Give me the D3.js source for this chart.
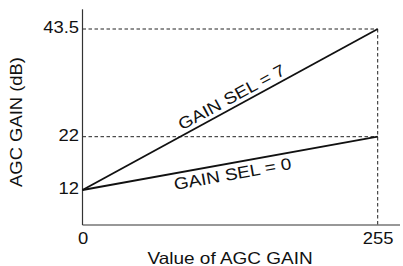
<!DOCTYPE html>
<meta charset="utf-8" />
<title>AGC Gain</title>
<style>
  body { margin: 0; background: #fff; }
  text { font-family: "Liberation Sans", Arial, sans-serif; fill: #111; }
  .grid { stroke: #222; stroke-width: 1; stroke-dasharray: 3.5, 2.5; fill: none; }
  .curve { stroke: #111; stroke-width: 1.8; fill: none; }
  .axisline { stroke: #333; stroke-width: 1.2; }
</style>
<body>
<script src="https://d3js.org/d3.v7.min.js"></script>
<script>
  // data (schematic, y axis is not to scale)
  var xTicks = [0, 255];
  var yTicks = [12, 22, 43.5];
  var agcValue = [0, 255];
  var gainSel7 = [12, 43.5];
  var gainSel0 = [12, 22];
  var seriesNames = ["GAIN SEL = 7", "GAIN SEL = 0"];

  var width = 403, height = 266;
  var left = 82.5, right = 377.7, axisTop = 9.3, axisBottom = 225;

  var svg = d3.select("body").append("svg")
    .attr("width", width)
    .attr("height", height);

  var x = d3.scaleLinear().domain(d3.extent(xTicks)).range([left, right]);
  // piecewise scale: the drawing spaces 12, 22 and 43.5 unevenly
  var y = d3.scaleLinear().domain(yTicks).range([190, 136.7, 29]);

  // dashed guides at the end values
  var topVals = yTicks.slice(1);
  svg.selectAll(".hgrid")
    .data(topVals)
    .enter().append("line")
    .attr("class", "grid")
    .attr("x1", left).attr("x2", x(255))
    .attr("y1", function(d) { return y(d); })
    .attr("y2", function(d) { return y(d); });

  svg.append("line")
    .attr("class", "grid")
    .attr("x1", x(255)).attr("x2", x(255))
    .attr("y1", y(d3.max(yTicks))).attr("y2", axisBottom);

  // axis lines
  svg.append("line").attr("class", "axisline")
    .attr("x1", left).attr("x2", left)
    .attr("y1", axisTop).attr("y2", axisBottom);
  svg.append("line").attr("class", "axisline")
    .attr("x1", left).attr("x2", 400)
    .attr("y1", axisBottom).attr("y2", axisBottom);

  // tick labels
  var yAxis = svg.append("g")
    .attr("transform", "translate(" + (left - 3.5) + ",0)")
    .call(d3.axisLeft(y).tickValues(yTicks).tickSize(0).tickPadding(0)
      .tickFormat(function(d) { return d; }));
  yAxis.select(".domain").remove();
  yAxis.selectAll("text")
    .attr("font-size", 16)
    .attr("dy", "0.22em")
    .attr("fill", "#111");

  var xAxis = svg.append("g")
    .attr("transform", "translate(0," + axisBottom + ")")
    .call(d3.axisBottom(x).tickValues(xTicks).tickSize(0).tickPadding(8)
      .tickFormat(function(d) { return d; }));
  xAxis.select(".domain").remove();
  xAxis.selectAll("text")
    .attr("font-size", 16)
    .attr("fill", "#111");

  // lines
  var line = d3.line()
    .x(function(d, i) { return x(agcValue[i]); })
    .y(function(d) { return y(d); });

  svg.selectAll(".curve")
    .data([gainSel7, gainSel0])
    .enter().append("path")
    .attr("class", "curve")
    .attr("d", line);

  // labels along the lines
  function lineLabel(vals, name, at, offset) {
    var x0 = x(agcValue[0]), y0 = y(vals[0]);
    var x1 = x(agcValue[1]), y1 = y(vals[1]);
    var ang = Math.atan2(y1 - y0, x1 - x0) * 180 / Math.PI;
    var px = x(at);
    var py = y0 + (y1 - y0) * (px - x0) / (x1 - x0);
    svg.append("text")
      .attr("transform", "translate(" + px + "," + py + ") rotate(" + ang + ")")
      .attr("text-anchor", "middle")
      .attr("dy", offset)
      .attr("font-size", 16.5)
      .text(name);
  }
  lineLabel(gainSel7, seriesNames[0], 133, -4.5);
  lineLabel(gainSel0, seriesNames[1], 128, 16.5);

  // axis titles
  svg.append("text")
    .attr("x", (left + right) / 2)
    .attr("y", 263.5)
    .attr("text-anchor", "middle")
    .attr("font-size", 16.5)
    .text("Value of AGC GAIN");

  svg.append("text")
    .attr("transform", "translate(22," + 122 + ") rotate(-90)")
    .attr("text-anchor", "middle")
    .attr("font-size", 16)
    .text("AGC GAIN (dB)");

  // the original lettering is set wider than Arial/Helvetica metrics
  svg.selectAll("text").each(function() {
    var len = this.getComputedTextLength();
    d3.select(this)
      .attr("textLength", len * 1.15)
      .attr("lengthAdjust", "spacingAndGlyphs");
  });
</script>
</body>
